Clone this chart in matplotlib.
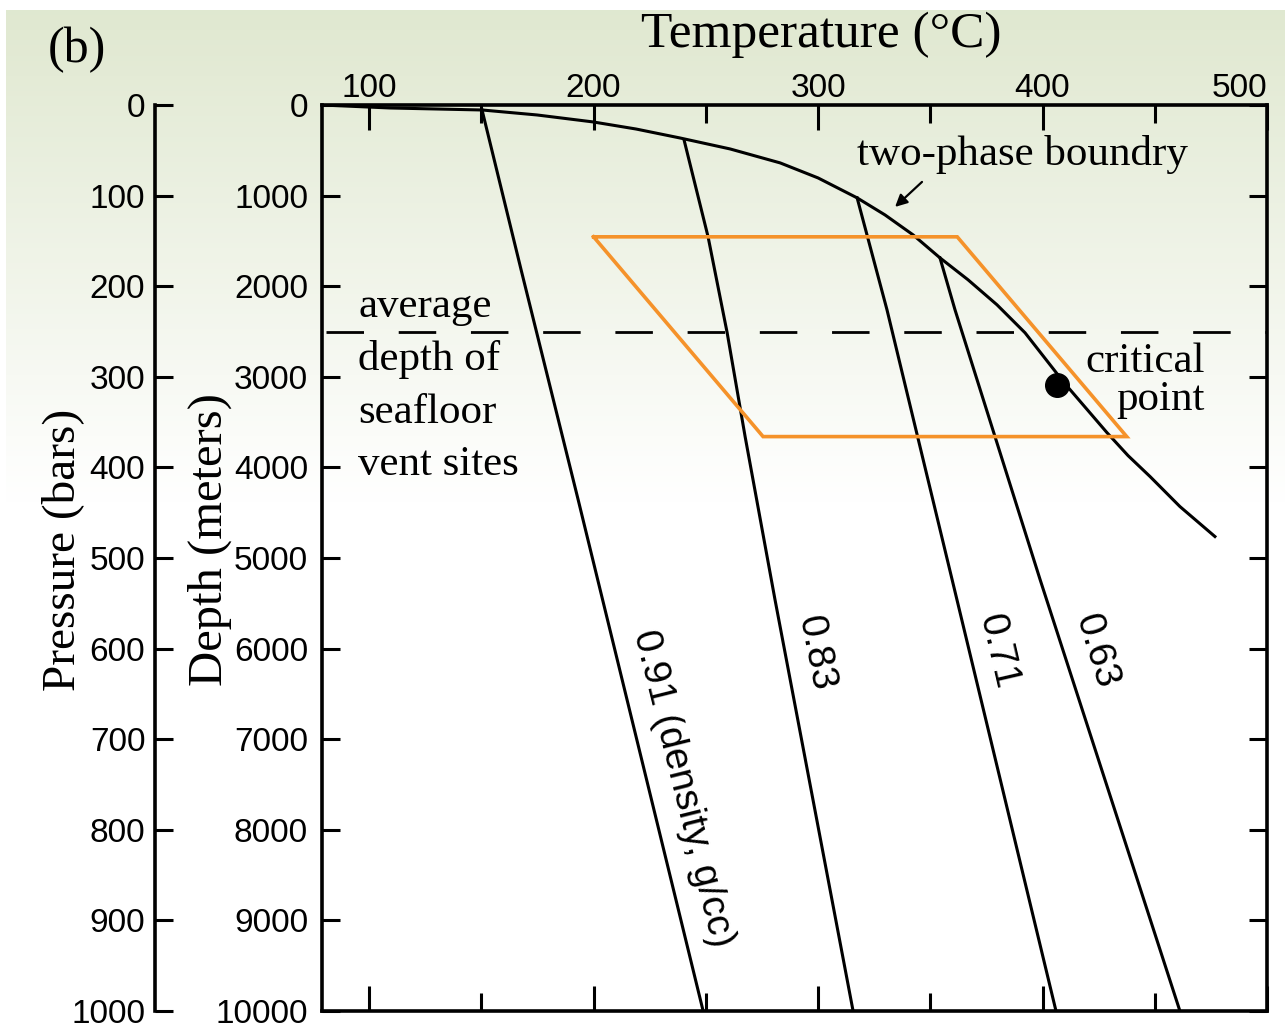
import numpy as np
import matplotlib
matplotlib.use('Agg')
import matplotlib.pyplot as plt
from matplotlib.ticker import MultipleLocator

SERIF = 'Liberation Serif'
SANS = 'Liberation Sans'

# two-phase boundary (temperature C, depth m)
boundary_T = [79.1, 109.4, 150.3, 174.8, 199.8, 218.9, 238.5, 260.8, 283.1, 300.0,
              317.4, 329.8, 342.3, 354.3, 366.8, 379.7, 392.2, 409.6, 428.7,
              438.1, 447.9, 461.2, 476.8]
boundary_D = [0, 33, 55, 110, 187, 265, 364, 485, 639, 805,
              1025, 1213, 1433, 1687, 1929, 2205, 2514, 3065, 3616,
              3870, 4101, 4432, 4763]

# isochores (density lines)
d091_T = [150.3, 167.7, 193.1, 248.8]
d091_D = [55, 1819, 4355, 10000]
d083_T = [240.3, 251.0, 259.5, 267.5, 280.8, 315.6]
d083_D = [386, 1455, 2514, 3660, 5458, 10000]
d071_T = [317.4, 330.7, 359.7, 406.0]
d071_D = [1025, 2260, 5237, 10000]
d063_T = [354.3, 361.0, 398.9, 461.2]
d063_D = [1687, 2260, 5237, 10000]

iso_labels = ['0.91 (density, g/cc)', '0.83', '0.71', '0.63']
iso_label_T = [239.9, 298.7, 380.2, 423.8]
iso_label_D = [7541, 6053, 6031, 6031]
iso_label_rot = [-76, -79, -77, -73]

# orange box of vent conditions
box_T = [200, 362, 437.5, 275.5, 200]
box_D = [1455, 1455, 3660, 3660, 1455]

vent_depth = 2500
critical_T = 406.5
critical_D = 3087

fig = plt.figure(figsize=(12.85, 10.24), dpi=100)
fig.patch.set_facecolor('white')

# greenish background fading to white
bg = fig.add_axes([6 / 1285, 0, 1 - 6 / 1285, 1 - 10 / 1024], zorder=0)
n = 200
frac = np.clip(np.linspace(0, 1014 / 490, n), 0, 1)
top_col = np.array([0.878, 0.910, 0.816])
grad = top_col[None, :] * (1 - frac[:, None]) + np.ones(3)[None, :] * frac[:, None]
bg.imshow(grad[:, None, :], aspect='auto', extent=[0, 1, 0, 1])
bg.axis('off')

ax = fig.add_axes([322 / 1285, 1 - 1011 / 1024, (1267 - 322) / 1285, (1011 - 105) / 1024], zorder=1)
ax.patch.set_alpha(0)

lw = 2.2
ax.plot(boundary_T, boundary_D, color='black', lw=lw)
ax.plot(d091_T, d091_D, color='black', lw=lw)
ax.plot(d083_T, d083_D, color='black', lw=lw)
ax.plot(d071_T, d071_D, color='black', lw=lw)
ax.plot(d063_T, d063_D, color='black', lw=lw)
ax.plot(box_T, box_D, color='#f5922a', lw=2.6, solid_joinstyle='miter')
dash, = ax.plot([81, 500], [vent_depth, vent_depth], color='black', lw=2.0)
dash.set_dashes([13.5, 12.5])
ax.plot([critical_T], [critical_D], 'o', color='black', ms=17)

for lab, t, d, r in zip(iso_labels, iso_label_T, iso_label_D, iso_label_rot):
    ax.text(t, d, lab, rotation=r, rotation_mode='anchor', ha='center', va='center',
            fontsize=28, family=SANS)

# annotations
ax.text(390.9, 551, 'two-phase boundry', ha='center', va='center', fontsize=31, family=SERIF)
ax.annotate('', xy=(334.3, 1125), xytext=(346.3, 849),
            arrowprops=dict(arrowstyle='-|>', color='black', lw=1.6,
                            mutation_scale=18, shrinkA=0, shrinkB=0))
vent_lines = ['average', 'depth of', 'seafloor', 'vent sites']
vent_base = [2337, 2922, 3506, 4079]
for s, d in zip(vent_lines, vent_base):
    ax.text(95.1, d, s, ha='left', va='baseline', fontsize=31, family=SERIF)
ax.text(472.4, 2944, 'critical', ha='right', va='baseline', fontsize=31, family=SERIF)
ax.text(472.4, 3363, 'point', ha='right', va='baseline', fontsize=31, family=SERIF)

ax.set_xlim(79, 500)
ax.set_ylim(10000, 0)
ax.xaxis.set_major_locator(MultipleLocator(100))
ax.xaxis.set_minor_locator(MultipleLocator(50))
ax.yaxis.set_major_locator(MultipleLocator(1000))
ax.tick_params(axis='x', which='both', direction='in', top=True, bottom=True,
               labeltop=True, labelbottom=False, width=2.2, pad=1,
               labelsize=24)
ax.tick_params(axis='x', which='major', length=18)
ax.tick_params(axis='x', which='minor', length=13)
ax.tick_params(axis='y', which='major', direction='in', left=True, right=True,
               labelleft=True, labelright=False, length=13, width=2.2, pad=10,
               labelsize=24)
fig.canvas.draw()
for lab in ax.get_xticklabels() + ax.get_yticklabels():
    lab.set_family(SANS)
# keep the last top label inside the figure
for tick in ax.xaxis.get_major_ticks():
    if abs(tick.get_loc() - 500) < 1e-6:
        tick.label2.set_ha('right')
for sp in ax.spines.values():
    sp.set_linewidth(2.6)

ax.set_xlabel('Temperature (°C)', fontsize=37, family=SERIF)
ax.xaxis.set_label_position('top')
ax.xaxis.label.set_va('baseline')
ax.xaxis.set_label_coords(0.528, 1.064)

ax.set_ylabel('Depth (meters)', fontsize=35, family=SERIF)
ax.yaxis.label.set_va('center')
ax.yaxis.set_label_coords(-0.1185, 0.52)

# pressure axis
pax = ax.secondary_yaxis(-0.1767, functions=(lambda d: d / 10.0, lambda p: p * 10.0))
pax.yaxis.set_major_locator(MultipleLocator(100))
pax.tick_params(axis='y', direction='in', length=13, width=2.2, pad=7, labelsize=24)
for lab in pax.get_yticklabels():
    lab.set_family(SANS)
pax.spines['left'].set_linewidth(2.6)
pax.set_ylabel('Pressure (bars)', fontsize=34, family=SERIF)
pax.yaxis.label.set_va('center')
pax.yaxis.set_label_coords(-0.275, 0.509, transform=ax.transAxes)

fig.text(48 / 1285, 1 - 50 / 1024, '(b)', ha='left', va='center', fontsize=36, family=SERIF)

fig.savefig('out.png', dpi=100)
